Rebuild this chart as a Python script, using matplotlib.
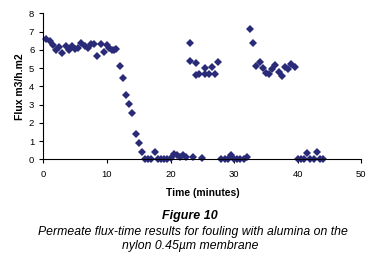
import matplotlib
matplotlib.use("Agg")
import matplotlib.pyplot as plt

time_min = [0.5, 1.0, 1.5, 2.0, 2.5, 3.0, 3.5, 4.0, 4.5, 5.0, 5.5, 6.0, 6.5, 7.0, 7.5, 8.0,
            8.5, 9.0, 9.5, 10.0, 10.4, 10.8, 11.1, 11.5, 12.0, 12.5, 13.0, 13.5, 14.0, 14.5,
            15.0, 15.5, 16.0, 16.5, 17.0, 17.5, 18.0, 18.5, 19.0, 19.5, 20.0, 20.5, 21.0,
            21.5, 22.0, 22.5, 23.0, 23.0, 23.5, 24.0, 24.0, 24.5, 25.0, 25.5, 25.5, 26.0,
            26.5, 27.0, 27.5, 28.0, 28.5, 29.0, 29.5, 30.0, 30.5, 31.0, 31.5, 32.0, 32.5,
            33.0, 33.5, 34.0, 34.5, 35.0, 35.5, 36.0, 36.5, 37.0, 37.5, 38.0, 38.5, 39.0,
            39.5, 40.0, 40.5, 41.0, 41.5, 42.0, 42.5, 43.0, 43.5, 44.0]
flux = [6.6, 6.5, 6.25, 6.0, 6.15, 5.85, 6.2, 6.0, 6.2, 6.05, 6.1, 6.4, 6.2, 6.1, 6.3, 6.3,
        5.65, 6.3, 5.9, 6.25, 6.1, 6.0, 6.0, 6.05, 5.1, 4.45, 3.5, 3.05, 2.55, 1.4,
        0.9, 0.38, 0.0, 0.0, 0.0, 0.42, 0.0, 0.0, 0.0, 0.0, 0.05, 0.3, 0.22,
        0.12, 0.25, 0.1, 6.35, 5.4, 0.15, 5.3, 4.6, 4.67, 0.05, 5.0, 4.67, 4.67,
        5.05, 4.67, 5.33, 0.0, 0.0, 0.0, 0.24, 0.0, 0.0, 0.0, 0.0, 0.1, 7.15,
        6.35, 5.1, 5.33, 5.0, 4.72, 4.7, 4.93, 5.17, 4.78, 4.56, 5.07, 4.95, 5.2,
        5.04, 0.0, 0.0, 0.0, 0.33, 0.0, 0.0, 0.38, 0.0, 0.0]

x_ticks = [0, 10, 20, 30, 40, 50]
y_ticks = [0, 1, 2, 3, 4, 5, 6, 7, 8]

plt.rcParams['font.family'] = ['Liberation Sans', 'DejaVu Sans']

fig = plt.figure(figsize=(3.72, 2.58), dpi=100)
W, H = 372, 258
ax = fig.add_axes([43.3 / W, 1 - 159.3 / H, (361.3 - 43.3) / W, (159.3 - 13.3) / H])
ax.plot(time_min, flux, linestyle='none', marker='D', markersize=3.6,
        color='#2a2b78', markeredgewidth=0, clip_on=False)
ax.set_xlim(0, 50)
ax.set_ylim(0, 8)
ax.set_xticks(x_ticks)
ax.set_yticks(y_ticks)
for s in ['top', 'right']:
    ax.spines[s].set_visible(False)
for s in ['left', 'bottom']:
    ax.spines[s].set_linewidth(0.8)
ax.tick_params(axis='both', direction='out', length=3, width=0.8, labelsize=6.8)
ax.tick_params(axis='x', pad=5)
ax.tick_params(axis='y', pad=3.5)

fig.text(20 / W, 1 - 87 / H, 'Flux m3/h.m2', fontsize=7.5, fontweight='bold',
         rotation=90, ha='center', va='center')
fig.text(203 / W, 1 - 193 / H, 'Time (minutes)', fontsize=7.4, fontweight='bold',
         ha='center', va='center')
fig.text(190 / W, 1 - 216 / H, 'Figure 10', fontsize=9, fontweight='bold',
         style='italic', ha='center', va='center')
fig.text(193 / W, 1 - 232 / H, 'Permeate flux-time results for fouling with alumina on the',
         fontsize=8.8, style='italic', ha='center', va='center')
fig.text(190 / W, 1 - 246.5 / H, 'nylon 0.45\u00b5m membrane',
         fontsize=8.8, style='italic', ha='center', va='center')

fig.savefig('out.png', dpi=100)
